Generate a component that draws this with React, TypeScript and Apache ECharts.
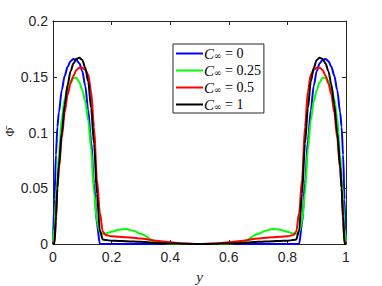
import React, { useEffect, useRef } from "react";
import * as echarts from "echarts";

const yPos = [0, 0.005, 0.01, 0.015, 0.02, 0.03, 0.04, 0.05, 0.06, 0.07, 0.08, 0.09, 0.1, 0.11, 0.12, 0.13, 0.14, 0.15, 0.16, 0.17, 0.18, 0.2, 0.225, 0.25, 0.275, 0.3, 0.35, 0.4, 0.45, 0.5,
  0.55, 0.6, 0.65, 0.7, 0.725, 0.75, 0.775, 0.8, 0.82, 0.83, 0.84, 0.85, 0.86, 0.87, 0.88, 0.89, 0.9, 0.91, 0.92, 0.93, 0.94, 0.95, 0.96, 0.97, 0.98, 0.985, 0.99, 0.995, 1];

const phiC0 = [0, 0.04, 0.08, 0.105, 0.118, 0.138, 0.151, 0.159, 0.164, 0.166, 0.165, 0.162, 0.155, 0.142, 0.12, 0.093, 0.054, 0.018, 0, 0, 0, 0, 0, 0, 0, 0, 0, 0, 0, 0,
  0, 0, 0, 0, 0, 0, 0, 0, 0, 0, 0, 0.018, 0.054, 0.093, 0.12, 0.142, 0.155, 0.162, 0.165, 0.166, 0.164, 0.159, 0.151, 0.138, 0.118, 0.105, 0.08, 0.04, 0];

const phiC025 = [0.002, 0.015, 0.04, 0.06, 0.08, 0.113, 0.13, 0.14, 0.146, 0.149, 0.149, 0.145, 0.138, 0.128, 0.111, 0.085, 0.046, 0.02, 0.011, 0.009, 0.0095, 0.011, 0.0128, 0.0135, 0.0118, 0.009, 0.002, 0, 0, 0,
  0, 0, 0.002, 0.009, 0.0118, 0.0135, 0.0128, 0.011, 0.0095, 0.009, 0.011, 0.02, 0.046, 0.085, 0.111, 0.128, 0.138, 0.145, 0.149, 0.149, 0.146, 0.14, 0.13, 0.113, 0.08, 0.06, 0.04, 0.015, 0.002];

const phiC05 = [0, 0.002, 0.02, 0.05, 0.067, 0.095, 0.118, 0.134, 0.144, 0.151, 0.156, 0.158, 0.158, 0.156, 0.152, 0.137, 0.105, 0.058, 0.028, 0.011, 0.008, 0.007, 0.0065, 0.006, 0.0055, 0.005, 0.003, 0.0015, 0.0005, 0,
  0.0005, 0.0015, 0.003, 0.005, 0.0055, 0.006, 0.0065, 0.007, 0.008, 0.011, 0.028, 0.058, 0.105, 0.137, 0.152, 0.156, 0.158, 0.158, 0.156, 0.151, 0.144, 0.134, 0.118, 0.095, 0.067, 0.05, 0.02, 0.002, 0];

const phiC1 = [0, 0, 0.025, 0.05, 0.07, 0.1, 0.125, 0.143, 0.155, 0.162, 0.166, 0.167, 0.165, 0.158, 0.146, 0.122, 0.09, 0.045, 0.012, 0.004, 0.0035, 0.003, 0.0028, 0.0025, 0.0022, 0.002, 0.001, 0.0005, 0.0002, 0,
  0.0002, 0.0005, 0.001, 0.002, 0.0022, 0.0025, 0.0028, 0.003, 0.0035, 0.004, 0.012, 0.045, 0.09, 0.122, 0.146, 0.158, 0.165, 0.167, 0.166, 0.162, 0.155, 0.143, 0.125, 0.1, 0.07, 0.05, 0.025, 0, 0];

const seriesNames = ["C∞ = 0", "C∞ = 0.25", "C∞ = 0.5", "C∞ = 1"];
const seriesValues = [phiC0, phiC025, phiC05, phiC1];
const seriesColors = ["#0000ff", "#00ff00", "#ff0000", "#000000"];
const legendValues = ["0", "0.25", "0.5", "1"];
const yAxisTitle = "Φ\u0304";

const axisColor = "#262626";

export default function App() {
  const ref = useRef<HTMLDivElement>(null);
  useEffect(() => {
    if (!ref.current) return;
    const chart = echarts.init(ref.current, undefined, { renderer: "svg" });
    const tickFont = { color: axisColor, fontSize: 14, fontFamily: "Liberation Sans" };
    const option = {
      animation: false,
      backgroundColor: "#ffffff",
      grid: { left: 53, right: 36, top: 21, bottom: 42, show: false, containLabel: false, outerBoundsMode: "none" },
      graphic: [
        {
          type: "text",
          x: 10,
          y: 132,
          rotation: Math.PI / 2,
          style: {
            text: yAxisTitle,
            fontFamily: "Liberation Serif",
            fontSize: 12,
            fill: axisColor,
            align: "center",
            verticalAlign: "middle",
          },
        },
      ],
      xAxis: [
        {
          type: "value", min: 0, max: 1, interval: 0.2, position: "bottom",
          axisLine: { show: true, onZero: false, lineStyle: { color: axisColor, width: 1 } },
          axisTick: { show: true, inside: true, length: 4, lineStyle: { color: axisColor } },
          axisLabel: { ...tickFont, margin: 6 },
          splitLine: { show: false },
          name: "y", nameLocation: "middle", nameGap: 25,
          nameTextStyle: { fontFamily: "Liberation Serif", fontStyle: "italic", fontSize: 15, color: axisColor },
        },
        {
          type: "value", min: 0, max: 1, interval: 0.2, position: "top",
          axisLine: { show: true, onZero: false, lineStyle: { color: axisColor, width: 1 } },
          axisTick: { show: true, inside: true, length: 4, lineStyle: { color: axisColor } },
          axisLabel: { show: false },
          splitLine: { show: false },
        },
      ],
      yAxis: [
        {
          type: "value", min: 0, max: 0.2, interval: 0.05, position: "left",
          axisLine: { show: true, onZero: false, lineStyle: { color: axisColor, width: 1 } },
          axisTick: { show: true, inside: true, length: 4, lineStyle: { color: axisColor } },
          axisLabel: { ...tickFont, margin: 5 },
          splitLine: { show: false },
        },
        {
          type: "value", min: 0, max: 0.2, interval: 0.05, position: "right",
          axisLine: { show: true, onZero: false, lineStyle: { color: axisColor, width: 1 } },
          axisTick: { show: true, inside: true, length: 4, lineStyle: { color: axisColor } },
          axisLabel: { show: false },
          splitLine: { show: false },
        },
      ],
      legend: {
        orient: "vertical",
        left: 173,
        top: 44,
        padding: [2, 3, 1, 3],
        itemGap: 2,
        itemWidth: 27,
        itemHeight: 2,
        icon: "rect",
        borderColor: axisColor,
        borderWidth: 1,
        backgroundColor: "#ffffff",
        data: seriesNames,
        formatter: (name: string) => {
          const i = seriesNames.indexOf(name);
          return `{c|C}{s|∞}{n| = ${legendValues[i]}}`;
        },
        textStyle: {
          padding: [0, 0, 0, -4],
          rich: {
            c: { fontFamily: "Liberation Serif", fontStyle: "italic", fontSize: 15, lineHeight: 14, color: "#000" },
            s: { fontFamily: "DejaVu Serif", fontSize: 9, lineHeight: 14, verticalAlign: "bottom", color: "#000", padding: [4, 0, 0, 0] },
            n: { fontFamily: "Liberation Serif", fontSize: 14, lineHeight: 14, color: "#000" },
          },
        },
      },
      series: seriesNames.map((name, k) => ({
        name,
        type: "line",
        xAxisIndex: 0,
        yAxisIndex: 0,
        showSymbol: false,
        smooth: 0.3,
        smoothMonotone: "x",
        color: seriesColors[k],
        lineStyle: { color: seriesColors[k], width: 2 },
        data: yPos.map((x, i) => [x, seriesValues[k][i]]),
      })),
    };
    chart.setOption(option as any);
    return () => chart.dispose();
  }, []);
  return <div ref={ref} style={{ width: 382, height: 286, position: "absolute", left: 0, top: 0 }} />;
}
